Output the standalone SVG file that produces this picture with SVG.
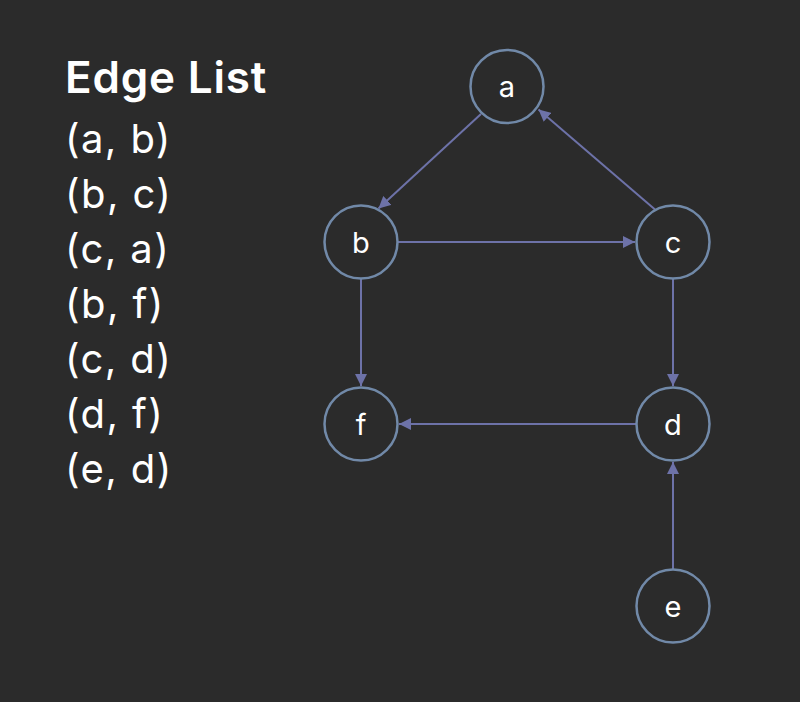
<svg xmlns="http://www.w3.org/2000/svg" width="800" height="702" viewBox="0 0 800 702">
<defs>
<style>
.bg{fill:#2b2b2b}
.node circle{fill:#2b2b2b;stroke:#7189a8;stroke-width:2.5}
.node text{fill:#ffffff;font-family:Inter,"Noto Sans",sans-serif;font-size:29px;text-anchor:middle}
.edge{stroke:#6d72a8;stroke-width:2;fill:none;marker-end:url(#arr)}
.title{fill:#ffffff;font-family:Inter,"Noto Sans",sans-serif;font-size:44px;font-weight:600;letter-spacing:0.8px}
.item{fill:#ffffff;font-family:Inter,"Noto Sans",sans-serif;font-size:40px;letter-spacing:1.4px}
</style>
<marker id="arr" markerUnits="userSpaceOnUse" markerWidth="12" markerHeight="12" refX="12" refY="6" orient="auto">
<path d="M0,0 L12,6 L0,12 z" fill="#6d72a8"/>
</marker>
</defs>
<rect class="bg" x="0" y="0" width="800" height="702"/>
<g id="edge-list">
<text class="title" x="65" y="93">Edge List</text>
<text class="item" x="65" y="153">(a, b)</text>
<text class="item" x="65" y="208">(b, c)</text>
<text class="item" x="65" y="263">(c, a)</text>
<text class="item" x="65" y="318">(b, f)</text>
<text class="item" x="65" y="373">(c, d)</text>
<text class="item" x="65" y="428">(d, f)</text>
<text class="item" x="65" y="483">(e, d)</text>
</g>
<g id="connectors">
<line class="edge" x1="481" y1="114" x2="378.5" y2="208.5"/>
<line class="edge" x1="398" y1="242" x2="635" y2="242"/>
<line class="edge" x1="655" y1="209.5" x2="538.5" y2="109.5"/>
<line class="edge" x1="361" y1="279" x2="361" y2="386"/>
<line class="edge" x1="673" y1="279" x2="673" y2="386"/>
<line class="edge" x1="636" y1="424" x2="399" y2="424"/>
<line class="edge" x1="673" y1="569" x2="673" y2="462"/>
</g>
<g id="node-a" class="node"><circle cx="507" cy="86.5" r="36.5"/><text x="507" y="97">a</text></g>
<g id="node-b" class="node"><circle cx="361" cy="242" r="36.5"/><text x="361" y="252.5">b</text></g>
<g id="node-c" class="node"><circle cx="673" cy="242" r="36.5"/><text x="673" y="252.5">c</text></g>
<g id="node-f" class="node"><circle cx="361" cy="424" r="36.5"/><text x="361" y="434.5">f</text></g>
<g id="node-d" class="node"><circle cx="673" cy="424" r="36.5"/><text x="673" y="434.5">d</text></g>
<g id="node-e" class="node"><circle cx="673" cy="606" r="36.5"/><text x="673" y="616.5">e</text></g>
</svg>
